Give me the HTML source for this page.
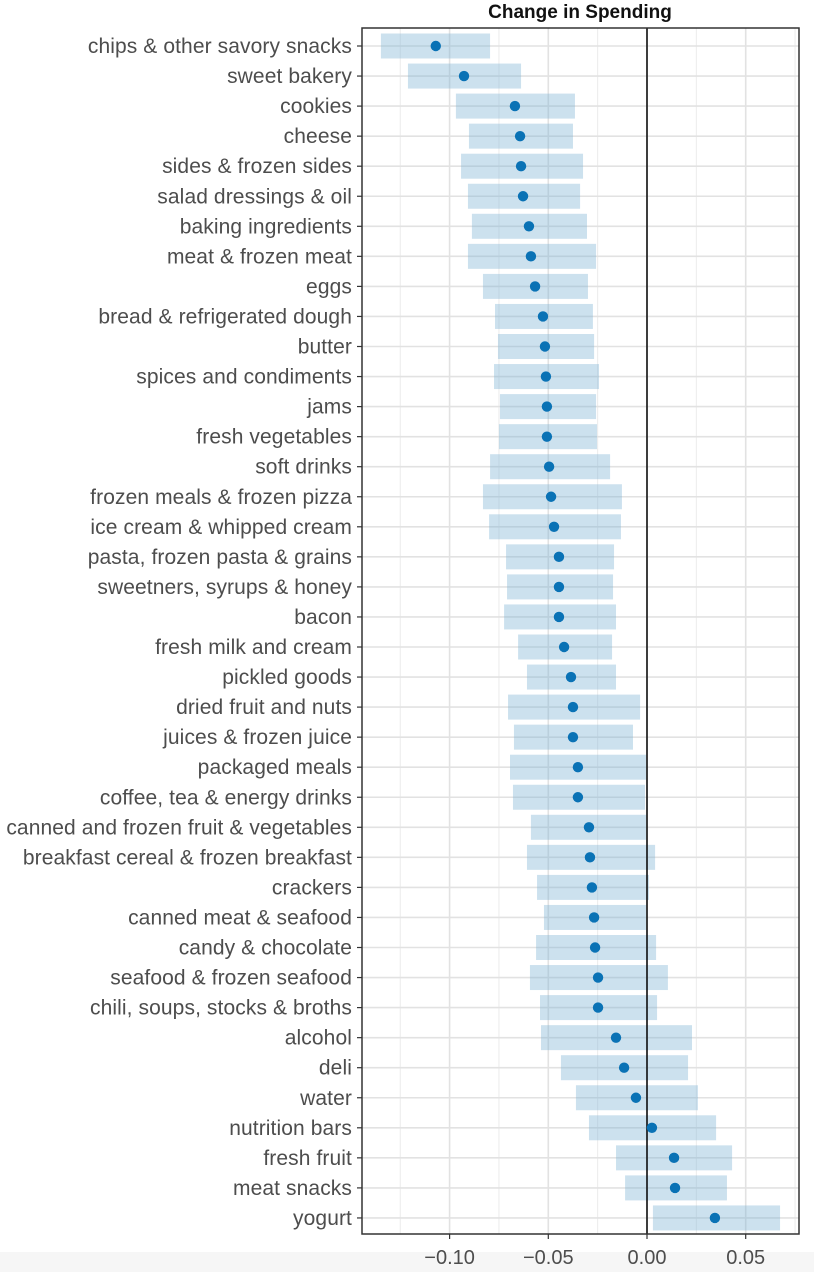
<!DOCTYPE html>
<html><head><meta charset="utf-8"><style>
html,body{margin:0;padding:0;background:#fff;}
svg{display:block;font-family:"Liberation Sans",Arial,sans-serif;}
</style></head><body>
<svg id="chart" width="814" height="1272"></svg>
<script>
const categories=["chips & other savory snacks","sweet bakery","cookies","cheese","sides & frozen sides","salad dressings & oil","baking ingredients","meat & frozen meat","eggs","bread & refrigerated dough","butter","spices and condiments","jams","fresh vegetables","soft drinks","frozen meals & frozen pizza","ice cream & whipped cream","pasta, frozen pasta & grains","sweetners, syrups & honey","bacon","fresh milk and cream","pickled goods","dried fruit and nuts","juices & frozen juice","packaged meals","coffee, tea & energy drinks","canned and frozen fruit & vegetables","breakfast cereal & frozen breakfast","crackers","canned meat & seafood","candy & chocolate","seafood & frozen seafood","chili, soups, stocks & broths","alcohol","deli","water","nutrition bars","fresh fruit","meat snacks","yogurt"];
const estimates=[-0.107,-0.0927,-0.0669,-0.0643,-0.0638,-0.0628,-0.0598,-0.0588,-0.0567,-0.0527,-0.0517,-0.0512,-0.0507,-0.0507,-0.0496,-0.0486,-0.0471,-0.0446,-0.0446,-0.0446,-0.0420,-0.0385,-0.0375,-0.0375,-0.0350,-0.0350,-0.0294,-0.0289,-0.0279,-0.0268,-0.0263,-0.0248,-0.0248,-0.0157,-0.0116,-0.0056,0.0025,0.0137,0.0142,0.0344];
const lower=[-0.1348,-0.1211,-0.0968,-0.0902,-0.0942,-0.0907,-0.0887,-0.0907,-0.0831,-0.0770,-0.0755,-0.0775,-0.0745,-0.0750,-0.0795,-0.0831,-0.0800,-0.0714,-0.0709,-0.0724,-0.0653,-0.0608,-0.0704,-0.0674,-0.0694,-0.0679,-0.0588,-0.0608,-0.0557,-0.0522,-0.0562,-0.0593,-0.0542,-0.0537,-0.0436,-0.0360,-0.0294,-0.0157,-0.0111,0.0030];
const upper=[-0.0795,-0.0638,-0.0365,-0.0375,-0.0324,-0.0339,-0.0304,-0.0258,-0.0299,-0.0274,-0.0268,-0.0243,-0.0258,-0.0253,-0.0187,-0.0127,-0.0132,-0.0167,-0.0172,-0.0157,-0.0177,-0.0157,-0.0035,-0.0071,-0.0005,-0.0010,-0.0005,0.0041,0.0010,-0.0005,0.0046,0.0106,0.0051,0.0228,0.0208,0.0258,0.0350,0.0431,0.0405,0.0674];
const xTicks=[-0.10,-0.05,0.00,0.05];
const xTickLabels=["\u22120.10","\u22120.05","0.00","0.05"];
const xMinor=[-0.125,-0.075,-0.025,0.025,0.075];

const NS="http://www.w3.org/2000/svg";
const svg=document.getElementById('chart');
const L=362,R=799,T=28,B=1234;
const x=v=>647+v*1974;
const y=i=>46+i*30.05;
function mk(tag,attrs,parent){const e=document.createElementNS(NS,tag);for(const k in attrs)e.setAttribute(k,attrs[k]);(parent||svg).appendChild(e);return e;}

mk('rect',{x:0,y:1252,width:814,height:20,fill:'#f6f6f6'});
const panel=mk('rect',{x:L,y:T,width:R-L,height:B-T,fill:'#fff'});


xMinor.forEach(v=>{const g=mk('line',{x1:x(v),x2:x(v),y1:T,y2:B,stroke:'#ececec','stroke-width':1});

});
xTicks.forEach(v=>{const g=mk('line',{x1:x(v),x2:x(v),y1:T,y2:B,stroke:'#e2e2e2','stroke-width':1.6});

});
categories.forEach((c,i)=>{const g=mk('line',{x1:L,x2:R,y1:y(i),y2:y(i),stroke:'#e2e2e2','stroke-width':1.6});

});
categories.forEach((c,i)=>{
 const b=mk('rect',{x:x(lower[i]),y:y(i)-12.5,width:x(upper[i])-x(lower[i]),height:25,fill:'rgba(120,175,210,0.38)'});
 
 
});
const zl=mk('line',{x1:x(0),x2:x(0),y1:T,y2:B,stroke:'#111','stroke-width':1.6});


categories.forEach((c,i)=>{
 const p=mk('circle',{cx:x(estimates[i]),cy:y(i),r:5.2,fill:'#0a72b5'});
 
 
 const tk=mk('line',{x1:357,x2:L,y1:y(i),y2:y(i),stroke:'#333','stroke-width':1.2});
 
 
 const t=mk('text',{x:352,y:y(i)+7,'text-anchor':'end','font-size':21,'letter-spacing':0.1,fill:'#4d4d4d'});
 t.textContent=c;
 
 
});
const fr=mk('rect',{x:L,y:T,width:R-L,height:B-T,fill:'none',stroke:'#333','stroke-width':1.5});


xTicks.forEach((v,i)=>{
 const tk=mk('line',{x1:x(v),x2:x(v),y1:B,y2:B+5,stroke:'#333','stroke-width':1.2});
 
 
 const t=mk('text',{x:x(v),y:B+30,'text-anchor':'middle','font-size':20,fill:'#4d4d4d'});
 t.textContent=xTickLabels[i];
 
 
});
const title=mk('text',{x:580,y:18,'text-anchor':'middle','font-size':19,'font-weight':'bold',fill:'#111'});
title.textContent='Change in Spending';


</script>
</body></html>
